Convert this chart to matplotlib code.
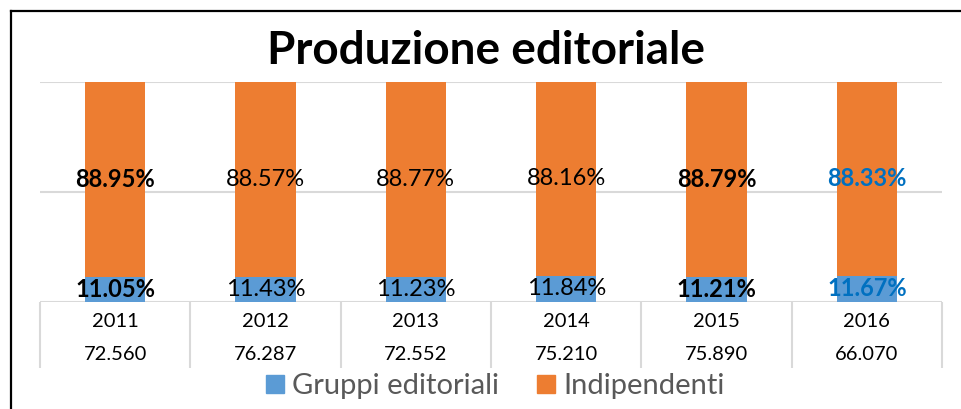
import matplotlib.pyplot as plt
from matplotlib.lines import Line2D
from matplotlib.patches import Patch

plt.rcParams['font.family'] = ['Lato', 'DejaVu Sans']

years = ['2011', '2012', '2013', '2014', '2015', '2016']
totals = ['72.560', '76.287', '72.552', '75.210', '75.890', '66.070']
gruppi = [11.05, 11.43, 11.23, 11.84, 11.21, 11.67]
indipendenti = [88.95, 88.57, 88.77, 88.16, 88.79, 88.33]

# label look per year, as in the original sheet
label_weight = ['bold', 'normal', 'normal', 'normal', 'bold', 'bold']
label_color = ['black', 'black', 'black', 'black', 'black', '#0070C0']

BLUE = '#5B9BD5'
ORANGE = '#ED7D31'
GRID = '#D9D9D9'

fig = plt.figure(figsize=(9.62, 4.09), dpi=100)
ax = fig.add_axes([40 / 962, 107.3 / 409, 902 / 962, 220 / 409])

x = list(range(len(years)))
ax.bar(x, gruppi, width=0.4, color=BLUE, zorder=3)
ax.bar(x, indipendenti, width=0.4, bottom=gruppi, color=ORANGE, zorder=3)

for i in x:
    ax.text(i, gruppi[i] / 2, f'{gruppi[i]:.2f}%', ha='center', va='center',
            fontsize=17, fontweight=label_weight[i], color=label_color[i], zorder=4)
    ax.text(i, gruppi[i] + indipendenti[i] / 2, f'{indipendenti[i]:.2f}%',
            ha='center', va='center', fontsize=17, fontweight=label_weight[i],
            color=label_color[i], zorder=4)
    ax.text(i, -9.2, years[i], ha='center', va='center', fontsize=14.5)
    ax.text(i, -24.2, totals[i], ha='center', va='center', fontsize=14.5)

ax.set_xlim(-0.5, len(years) - 0.5)
ax.set_ylim(0, 100)
for y in (0, 50, 100):
    ax.axhline(y, color=GRID, lw=1.5, zorder=1)
ax.vlines([i - 0.5 for i in range(len(years) + 1)], -30, 0, color=GRID, lw=1.5,
          clip_on=False)
ax.set_xticks([])
ax.set_yticks([])
for s in ax.spines.values():
    s.set_visible(False)

fig.text(0.505, 0.875, 'Produzione editoriale', ha='center', va='center',
         fontsize=33, fontweight='bold')

handles = [Patch(color=BLUE, label='Gruppi editoriali'),
           Patch(color=ORANGE, label='Indipendenti')]
fig.legend(handles=handles, loc='center', bbox_to_anchor=(0.515, 0.056), ncol=2,
           frameon=False, fontsize=21, labelcolor='#595959', handlelength=0.6,
           handleheight=0.6, handletextpad=0.3, columnspacing=1.3)

fig.add_artist(Line2D([11 / 962, 1], [398 / 409, 398 / 409], color='black', lw=1.6))
fig.add_artist(Line2D([11 / 962, 11 / 962], [0, 398 / 409], color='black', lw=1.6))

fig.savefig('out.png', dpi=100)
